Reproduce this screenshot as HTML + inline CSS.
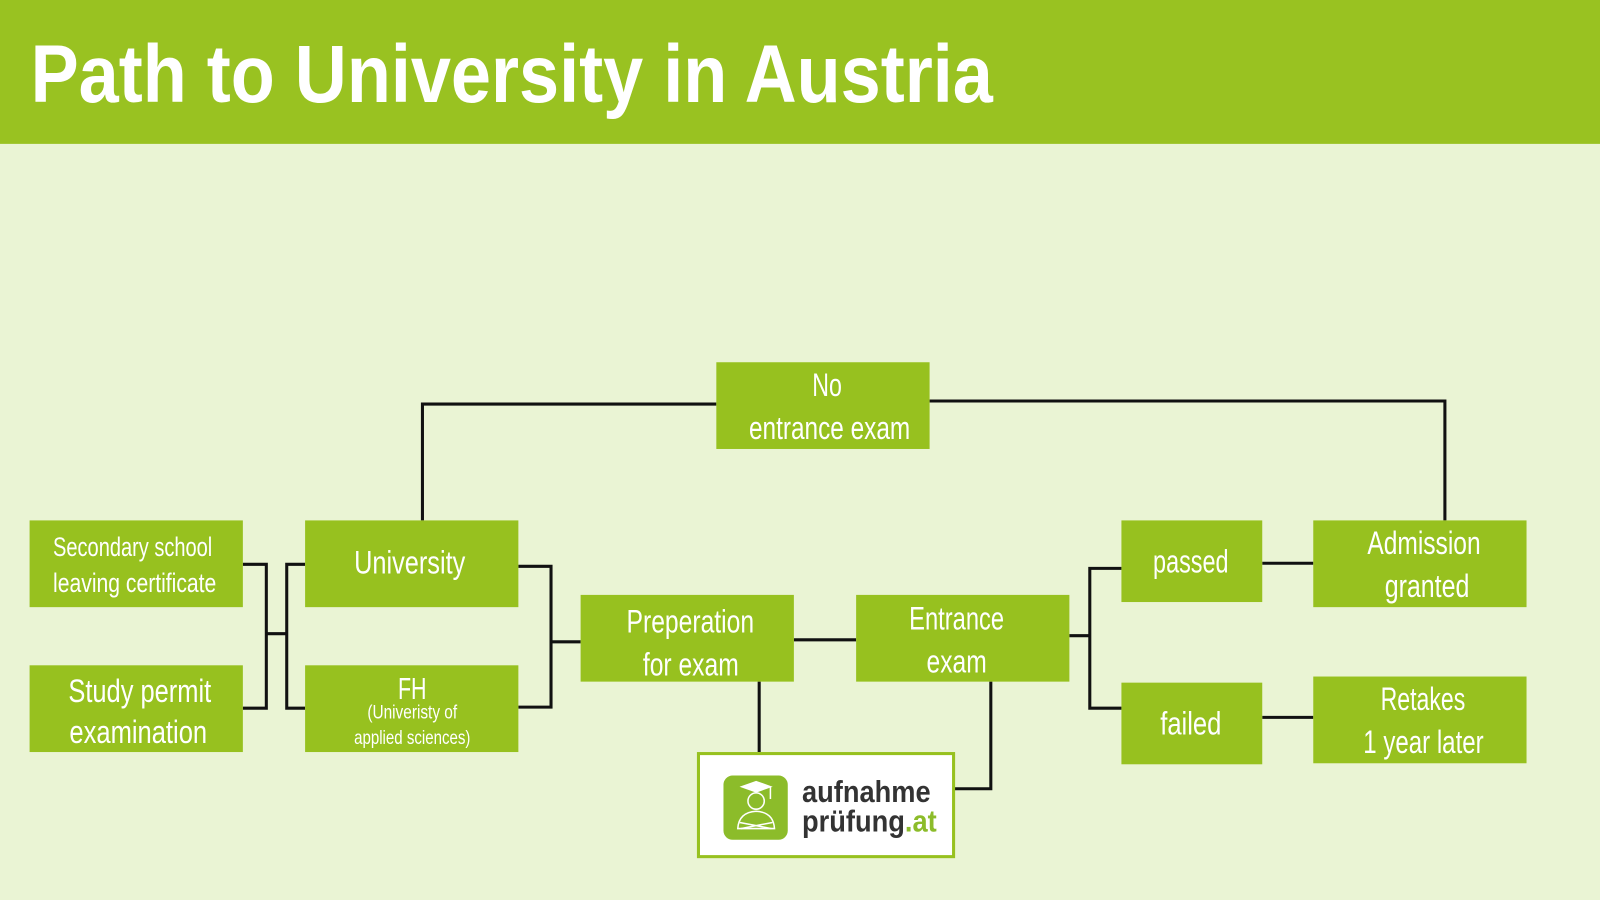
<!DOCTYPE html>
<html><head><meta charset="utf-8"><style>
html,body{margin:0;padding:0;width:1600px;height:900px;overflow:hidden;background:#eaf4d4}
svg{display:block}
text{font-family:"Liberation Sans",sans-serif;fill:#fff}
</style></head><body>
<svg width="1600" height="900" viewBox="0 0 1568 882" preserveAspectRatio="none" xmlns="http://www.w3.org/2000/svg">
<rect x="0" y="0" width="1568" height="882" fill="#eaf4d4"/>
<rect x="0" y="0" width="1568" height="141" fill="#99c221"/>
<text x="30" y="100" font-size="80" font-weight="bold" textLength="943" lengthAdjust="spacingAndGlyphs">Path to University in Austria</text>

<g stroke="#111" stroke-width="3" fill="none">
<polyline points="238,553 261,553 261,694 238,694"/>
<line x1="261" y1="621" x2="281" y2="621"/>
<polyline points="299,553 281,553 281,694 299,694"/>
<polyline points="508,555 540,555 540,693 508,693"/>
<line x1="540" y1="629" x2="569" y2="629"/>
<line x1="778" y1="627" x2="839" y2="627"/>
<line x1="744" y1="668" x2="744" y2="737"/>
<polyline points="971,668 971,773 935,773"/>
<line x1="1048" y1="623" x2="1068" y2="623"/>
<polyline points="1099,557 1068,557 1068,694 1099,694"/>
<line x1="1237" y1="552" x2="1287" y2="552"/>
<line x1="1237" y1="703" x2="1287" y2="703"/>
<polyline points="414,510 414,396 702,396"/>
<polyline points="911,393 1416,393 1416,510"/>
</g>

<g fill="#97c11f">
<rect x="29" y="510" width="209" height="85"/>
<rect x="29" y="652" width="209" height="85"/>
<rect x="299" y="510" width="209" height="85"/>
<rect x="299" y="652" width="209" height="85"/>
<rect x="569" y="583" width="209" height="85"/>
<rect x="839" y="583" width="209" height="85"/>
<rect x="702" y="355" width="209" height="85"/>
<rect x="1099" y="510" width="138" height="80"/>
<rect x="1099" y="669" width="138" height="80"/>
<rect x="1287" y="510" width="209" height="85"/>
<rect x="1287" y="663" width="209" height="85"/>
</g>

<text x="52" y="545" font-size="26" textLength="156" lengthAdjust="spacingAndGlyphs">Secondary school</text>
<text x="52" y="580" font-size="26" textLength="160" lengthAdjust="spacingAndGlyphs">leaving certificate</text>
<text x="67" y="688" font-size="32" textLength="140" lengthAdjust="spacingAndGlyphs">Study permit</text>
<text x="68" y="728" font-size="32" textLength="135" lengthAdjust="spacingAndGlyphs">examination</text>
<text x="347" y="562" font-size="32" textLength="109" lengthAdjust="spacingAndGlyphs">University</text>
<text x="390" y="685" font-size="30" textLength="28" lengthAdjust="spacingAndGlyphs">FH</text>
<text x="360" y="704" font-size="19" textLength="88" lengthAdjust="spacingAndGlyphs">(Univeristy of</text>
<text x="347" y="729" font-size="19" textLength="114" lengthAdjust="spacingAndGlyphs">applied sciences)</text>
<text x="614" y="620" font-size="32" textLength="125" lengthAdjust="spacingAndGlyphs">Preperation</text>
<text x="630" y="662" font-size="32" textLength="94" lengthAdjust="spacingAndGlyphs">for exam</text>
<text x="891" y="617" font-size="32" textLength="93" lengthAdjust="spacingAndGlyphs">Entrance</text>
<text x="908" y="659" font-size="32" textLength="59" lengthAdjust="spacingAndGlyphs">exam</text>
<text x="796" y="388" font-size="32" textLength="29" lengthAdjust="spacingAndGlyphs">No</text>
<text x="734" y="430" font-size="32" textLength="158" lengthAdjust="spacingAndGlyphs">entrance exam</text>
<text x="1130" y="561" font-size="32" textLength="74" lengthAdjust="spacingAndGlyphs">passed</text>
<text x="1137" y="720" font-size="32" textLength="60" lengthAdjust="spacingAndGlyphs">failed</text>
<text x="1340" y="543" font-size="32" textLength="111" lengthAdjust="spacingAndGlyphs">Admission</text>
<text x="1357" y="585" font-size="32" textLength="83" lengthAdjust="spacingAndGlyphs">granted</text>
<text x="1353" y="696" font-size="32" textLength="83" lengthAdjust="spacingAndGlyphs">Retakes</text>
<text x="1336" y="738" font-size="32" textLength="118" lengthAdjust="spacingAndGlyphs">1 year later</text>

<rect x="684.5" y="738.5" width="250" height="101" fill="#fff" stroke="#97c11f" stroke-width="3"/>
<rect x="709" y="760" width="63" height="63" rx="9" fill="#8cbc2a"/>
<g stroke="#fff" stroke-width="1.5" fill="none">
<polygon points="727,771 741,766 755,771 741,776" fill="#fff"/>
<line x1="755" y1="771" x2="755" y2="783"/>
<circle cx="741" cy="785" r="8"/>
<path d="M723,812 Q724,796 741,795 Q758,796 759,812 Z"/>
<path d="M725,806 L756,812 M757,806 L726,812"/>
</g>
<text x="786" y="786" font-size="30" font-weight="bold" style="fill:#333" textLength="126" lengthAdjust="spacingAndGlyphs">aufnahme</text>
<text x="786" y="815" font-size="30" font-weight="bold" textLength="132" lengthAdjust="spacingAndGlyphs"><tspan style="fill:#333">prüfung</tspan><tspan style="fill:#8cbc2a">.at</tspan></text>
</svg>
</body></html>
